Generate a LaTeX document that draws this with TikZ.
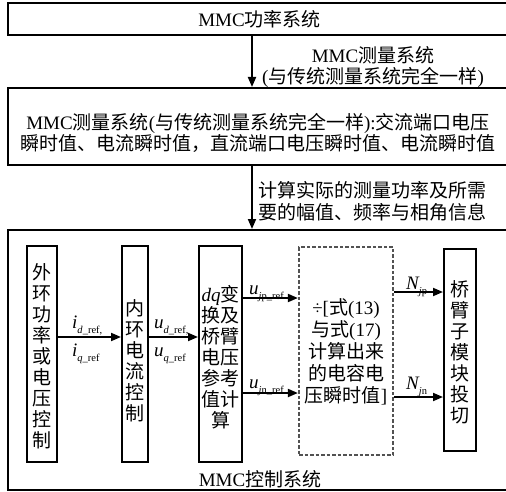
\documentclass[tikz,border=0pt]{standalone}
\usepackage{fontspec}
\setmainfont{Noto Sans CJK SC}
\newfontfamily\tnr{Liberation Serif}
\usetikzlibrary{arrows.meta}
\newcommand{\lt}[1]{{\tnr #1}}
\newcommand{\sbs}[1]{\raisebox{-0.5ex}{\fontsize{10.5}{10.5}\selectfont\tnr #1}}
\newcommand{\vrb}[2]{{\tnr\itshape #1}\sbs{#2}}
\begin{document}
\begin{tikzpicture}[x=1pt,y=-1pt,
  box/.style={draw, line width=2pt, inner sep=0pt},
  dbox/.style={draw=black!68, line width=2.2pt, inner sep=0pt, dash pattern=on 3.5pt off 2pt},
  arr/.style={line width=1.9pt, -{Triangle[length=10pt,width=8pt]}},
  txt/.style={font=\fontsize{19}{21}\selectfont, inner sep=0pt},
  vtxt/.style={txt, align=center},
  lbl/.style={font=\fontsize{19}{20}\selectfont, inner sep=0pt, anchor=base west}]
\useasboundingbox (0,0) rectangle (506,492);
\coordinate (ax) at (252,0);
% top
\node[box, txt, minimum width=503pt, minimum height=32pt] (pwr) at (259.5,19) {\lt{MMC}功率系统};
\node[box, minimum width=503pt, minimum height=77pt] (meas) at (259.5,126.5) {};
\node[txt, align=center] (meastxt) at (258,133) {\lt{MMC}测量系统\lt{(}与传统测量系统完全一样\lt{):}交流端口电压\\瞬时值、电流瞬时值，直流端口电压瞬时值、电流瞬时值};
\draw[arr] (pwr.south -| ax) -- (meas.north -| ax);
\node[txt, align=center] (l1) at (373,67.5) {\lt{MMC}测量系统\\\lt{(}与传统测量系统完全一样\lt{)}};
\node[box, minimum width=503pt, minimum height=260pt] (ctrl) at (259.5,360) {};
\draw[arr] (meas.south -| ax) -- (ctrl.north -| ax);
\node[txt, font=\fontsize{19}{22}\selectfont, align=left, anchor=west] (l2) at (258,201) {计算实际的测量功率及所需\\要的幅值、频率与相角信息};
\node[txt] (ctrllbl) at (260,479) {\lt{MMC}控制系统};
% inner boxes
\node[box, minimum width=30pt, minimum height=216pt] (b1) at (42,354) {};
\node[vtxt] (b1t) at (42,356) {外\\环\\功\\率\\或\\电\\压\\控\\制};
\node[box, minimum width=26pt, minimum height=216pt] (b2) at (135,354) {};
\node[vtxt] (b2t) at (135,361) {内\\环\\电\\流\\控\\制};
\node[box, minimum width=43pt, minimum height=216pt] (b3) at (220.5,354) {};
\node[vtxt] (b3t) at (220.5,357) {\lt{\itshape dq}变\\换及\\桥臂\\电压\\参考\\值计\\算};
\node[dbox, minimum width=94pt, minimum height=208pt] (d) at (346,351) {};
\node[txt, font=\fontsize{19}{22}\selectfont, align=center] (dt) at (346,352) {\lt{÷[}式\lt{(13)}\\与式\lt{(17)}\\计算出来\\的电容电\\压瞬时值\lt{]}};
\node[box, minimum width=32pt, minimum height=202pt] (b5) at (460,350) {};
\node[vtxt] (b5t) at (460,352) {桥\\臂\\子\\模\\块\\投\\切};
% arrows
\coordinate (y1) at (0,337);
\coordinate (y2) at (0,298);
\coordinate (y3) at (0,393);
\coordinate (y4) at (0,292);
\coordinate (y5) at (0,397);
\draw[arr] (b1.east |- y1) -- (b2.west |- y1);
\draw[arr] (b2.east |- y1) -- (b3.west |- y1);
\draw[arr] (b3.east |- y2) -- (d.west |- y2);
\draw[arr] (b3.east |- y3) -- (d.west |- y3);
\draw[arr] (d.east |- y4) -- (b5.west |- y4);
\draw[arr] (d.east |- y5) -- (b5.west |- y5);
% labels
\node[lbl] (lid) at (72,328) {\vrb{i}{\textit{d}\_ref,}};
\node[lbl] (liq) at (72,356) {\vrb{i}{\textit{q}\_ref}};
\node[lbl] (lud) at (154,328) {\vrb{u}{\textit{d}\_ref,}};
\node[lbl] (luq) at (154,356) {\vrb{u}{\textit{q}\_ref}};
\node[lbl] (lup) at (249,294) {\vrb{u}{\textit{j}p\_ref}};
\node[lbl] (lun) at (249,388) {\vrb{u}{\textit{j}n\_ref}};
\node[lbl] (lnp) at (406,289) {\vrb{N}{\textit{j}p}};
\node[lbl] (lnn) at (406,389) {\vrb{N}{\textit{j}n}};
\end{tikzpicture}
\end{document}
